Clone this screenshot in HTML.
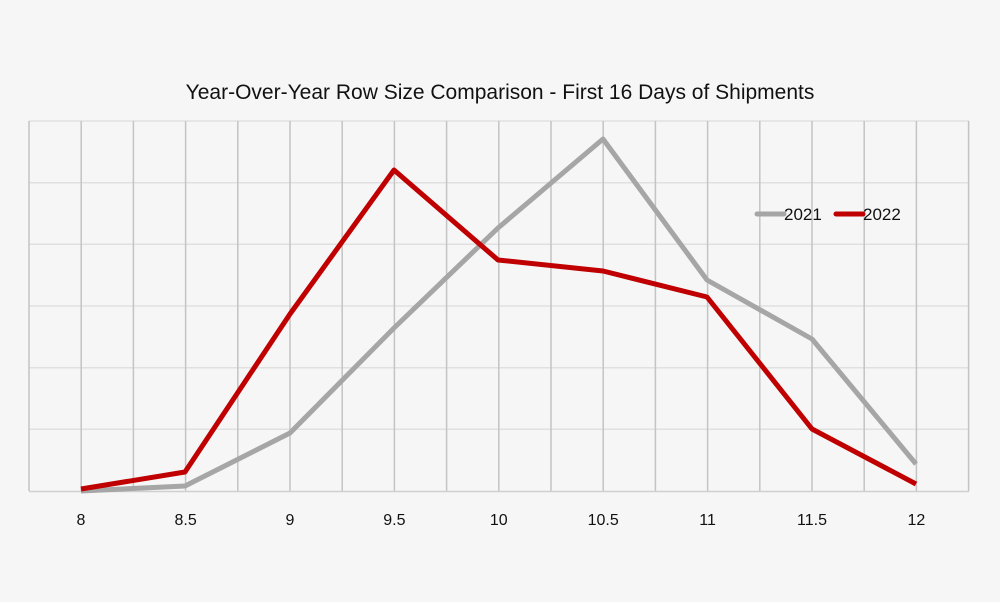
<!DOCTYPE html>
<html><head><style>
html,body{margin:0;padding:0;background:#f6f6f6;}
svg{display:block;}
text{font-family:"Liberation Sans",sans-serif;fill:#111;}
</style></head><body>
<svg width="1000" height="602" viewBox="0 0 1000 602">
<rect width="1000" height="602" fill="#f6f6f6"/>
<text x="500" y="99" font-size="21" text-anchor="middle">Year-Over-Year Row Size Comparison - First 16 Days of Shipments</text>
<g stroke="#e0e0e0" stroke-width="1.5">
<line x1="29" y1="121" x2="969" y2="121"/>
<line x1="29" y1="182.7" x2="969" y2="182.7"/>
<line x1="29" y1="244.3" x2="969" y2="244.3"/>
<line x1="29" y1="306" x2="969" y2="306"/>
<line x1="29" y1="367.7" x2="969" y2="367.7"/>
<line x1="29" y1="429.3" x2="969" y2="429.3"/>
</g>
<g stroke="#c4c4c4" stroke-width="1.5">
<line x1="29" y1="121" x2="29" y2="491"/>
<line x1="81.2" y1="121" x2="81.2" y2="491"/>
<line x1="133.4" y1="121" x2="133.4" y2="491"/>
<line x1="185.6" y1="121" x2="185.6" y2="491"/>
<line x1="237.8" y1="121" x2="237.8" y2="491"/>
<line x1="290" y1="121" x2="290" y2="491"/>
<line x1="342.2" y1="121" x2="342.2" y2="491"/>
<line x1="394.4" y1="121" x2="394.4" y2="491"/>
<line x1="446.6" y1="121" x2="446.6" y2="491"/>
<line x1="498.8" y1="121" x2="498.8" y2="491"/>
<line x1="551" y1="121" x2="551" y2="491"/>
<line x1="603.2" y1="121" x2="603.2" y2="491"/>
<line x1="655.4" y1="121" x2="655.4" y2="491"/>
<line x1="707.6" y1="121" x2="707.6" y2="491"/>
<line x1="759.8" y1="121" x2="759.8" y2="491"/>
<line x1="812" y1="121" x2="812" y2="491"/>
<line x1="864.2" y1="121" x2="864.2" y2="491"/>
<line x1="916.4" y1="121" x2="916.4" y2="491"/>
<line x1="968.6" y1="121" x2="968.6" y2="491"/>
</g>
<line x1="29" y1="491.5" x2="969" y2="491.5" stroke="#d0d0d0" stroke-width="1.5"/>
<polyline fill="none" stroke="#a6a6a6" stroke-width="5" stroke-linejoin="round" points="81,491 185,486 290,433 394,328 498,228 603,139 707,280 812,339 916,464"/>
<polyline fill="none" stroke="#c00000" stroke-width="5" stroke-linejoin="round" points="81,489 185,472 290,314 394,170 498,260 603,271 707,297 812,429 916,484"/>
<line x1="757" y1="214" x2="784" y2="214" stroke="#a6a6a6" stroke-width="5" stroke-linecap="round"/>
<text x="784" y="220" font-size="17">2021</text>
<line x1="836" y1="214" x2="863" y2="214" stroke="#c00000" stroke-width="5" stroke-linecap="round"/>
<text x="863" y="220" font-size="17">2022</text>
<g font-size="16" text-anchor="middle">
<text x="81" y="525">8</text>
<text x="185.6" y="525">8.5</text>
<text x="290" y="525">9</text>
<text x="394.4" y="525">9.5</text>
<text x="498.8" y="525">10</text>
<text x="603.2" y="525">10.5</text>
<text x="707.6" y="525">11</text>
<text x="812" y="525">11.5</text>
<text x="916.4" y="525">12</text>
</g>
</svg>
</body></html>
